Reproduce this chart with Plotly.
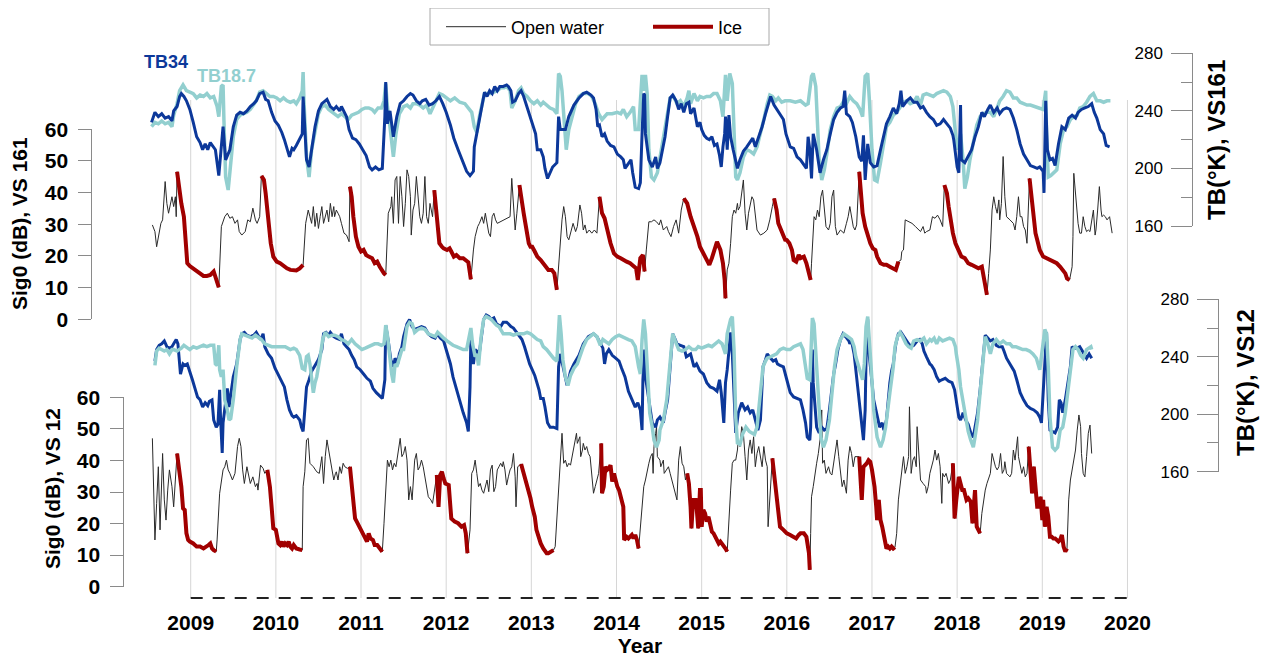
import plotly.graph_objects as go

W, H = 1270, 658
OFF = 8  # the page places the figure 8px in from the top-left corner
FONT = "Liberation Sans, Arial, sans-serif"
BLUE = "#0C389A"
TEAL = "#92CFCF"
RED = "#A10000"
BLACK = "#2a2a2a"
AXIS = "#8a8a8a"
GRID = "#d6d6d6"

years = list(range(2009, 2021))

# ---------------- VS 161 (top) ----------------
t_tb34_161 = [
 2008.54,2008.58,2008.62,2008.66,2008.70,2008.74,2008.78,2008.80,2008.84,2008.87,2008.89,2008.92,2008.95,2008.99,
 2009.03,2009.07,2009.11,2009.14,2009.17,2009.20,2009.23,2009.26,2009.29,2009.33,2009.38,2009.41,2009.46,2009.50,2009.54,2009.58,2009.62,2009.66,2009.70,2009.74,2009.77,2009.81,2009.85,2009.88,2009.91,2009.95,2009.99,
 2010.03,2010.07,2010.10,2010.13,2010.16,2010.19,2010.21,2010.24,2010.28,2010.31,2010.32,2010.34,2010.36,2010.39,2010.42,2010.46,2010.50,2010.54,2010.58,2010.60,2010.64,2010.68,2010.71,2010.75,2010.77,2010.80,2010.83,2010.86,2010.90,2010.94,2010.98,
 2011.02,2011.06,2011.10,2011.13,2011.17,2011.21,2011.25,2011.28,2011.29,2011.31,2011.34,2011.38,2011.42,2011.46,2011.50,2011.54,2011.58,2011.61,2011.65,2011.69,2011.72,2011.76,2011.80,2011.84,2011.88,2011.92,2011.96,
 2012.00,2012.05,2012.09,2012.14,2012.19,2012.24,2012.28,2012.32,2012.33,2012.36,2012.39,2012.42,2012.45,2012.48,2012.51,2012.54,2012.57,2012.60,2012.63,2012.67,2012.71,2012.73,2012.76,2012.78,2012.81,2012.85,2012.88,2012.91,2012.95,2012.99,
 2013.02,2013.05,2013.07,2013.11,2013.14,2013.16,2013.19,2013.22,2013.25,2013.30,2013.32,2013.34,2013.40,2013.44,2013.50,2013.56,2013.61,2013.65,2013.70,2013.73,2013.76,2013.78,2013.80,2013.83,2013.86,2013.89,2013.93,2013.97,
 2014.01,2014.05,2014.08,2014.10,2014.14,2014.17,2014.19,2014.22,2014.26,2014.28,2014.30,2014.32,2014.33,2014.34,2014.38,2014.42,2014.46,2014.48,2014.51,2014.55,2014.57,2014.60,2014.63,2014.66,2014.70,2014.73,2014.76,2014.79,2014.82,2014.85,2014.87,2014.91,2014.93,2014.95,2014.98,
 2015.00,2015.03,2015.06,2015.09,2015.12,2015.15,2015.18,2015.21,2015.23,2015.25,2015.27,2015.28,2015.30,2015.32,2015.34,2015.37,2015.40,2015.42,2015.45,2015.49,2015.53,2015.57,2015.60,2015.63,2015.67,2015.71,2015.75,2015.79,2015.81,2015.85,2015.88,2015.92,2015.96,2015.99,
 2016.04,2016.08,2016.12,2016.16,2016.20,2016.23,2016.25,2016.27,2016.29,2016.31,2016.35,2016.39,2016.43,2016.47,2016.51,2016.55,2016.59,2016.63,2016.66,2016.68,2016.70,2016.74,2016.77,2016.81,2016.85,2016.88,2016.90,2016.92,2016.95,2016.98,
 2017.02,2017.06,2017.10,2017.14,2017.17,2017.21,2017.25,2017.29,2017.32,2017.34,2017.36,2017.41,2017.45,2017.49,2017.53,2017.57,2017.60,2017.64,2017.68,2017.72,2017.76,2017.80,2017.84,2017.88,2017.92,2017.95,2017.96,
 2018.00,2018.02,2018.04,2018.05,2018.09,2018.13,2018.17,2018.21,2018.25,2018.29,2018.32,2018.36,2018.39,2018.43,2018.47,2018.50,2018.54,2018.58,2018.62,2018.66,2018.70,2018.74,2018.78,2018.82,2018.86,2018.90,2018.94,2018.97,
 2019.01,2019.02,2019.04,2019.06,2019.09,2019.12,2019.15,2019.19,2019.23,2019.27,2019.31,2019.35,2019.39,2019.42,2019.46,2019.50,2019.54,2019.58,2019.61,2019.64,2019.68,2019.72,2019.75,2019.79]
tb34_161 = [
 232,239,236,238,235,236,233,240,243,250,252,250,247,241,
 232,222,218,213,217,213,218,215,213,195,229,206,213,229,237,239,238,240,243,245,247,252,253,248,247,239,233,
 230,225,220,214,208,214,213,216,221,224,250,224,206,201,213,229,240,245,247,248,243,241,243,240,243,240,236,227,221,220,217,
 213,209,201,199,201,199,200,236,260,231,240,222,236,245,247,250,252,251,247,245,247,248,244,245,247,250,245,
 239,230,221,213,205,198,195,198,215,225,234,244,253,250,254,252,257,254,257,257,258,257,254,246,247,252,254,250,243,236,
 230,224,213,213,208,200,193,197,201,204,236,227,227,236,244,249,252,253,251,249,241,229,230,222,224,219,216,215,
 210,208,206,200,204,206,197,187,186,190,224,252,251,224,206,201,208,200,204,215,222,236,249,251,247,241,245,239,245,246,238,242,236,229,232,
 227,223,221,220,222,216,217,209,201,215,224,236,213,237,222,213,206,200,206,212,215,219,221,215,222,229,238,247,250,244,241,238,234,224,
 215,214,208,206,202,200,222,213,193,224,213,197,206,213,224,234,239,242,243,254,238,236,232,222,208,205,223,192,217,204,
 201,202,213,224,231,236,242,238,245,254,243,247,249,246,246,242,243,239,236,234,230,231,234,231,228,223,220,
 201,197,244,206,204,208,213,222,229,239,236,241,244,239,242,238,241,242,241,235,227,217,210,206,202,201,200,201,
 198,183,247,213,206,207,202,217,229,227,235,237,235,239,241,242,243,245,239,235,227,224,216,215]

t_tb18_161 = [
 2008.54,2008.58,2008.62,2008.66,2008.70,2008.74,2008.78,2008.80,2008.84,2008.87,2008.91,2008.95,2008.99,
 2009.03,2009.07,2009.11,2009.15,2009.19,2009.23,2009.27,2009.31,2009.33,2009.36,2009.38,2009.39,2009.41,2009.44,2009.46,2009.50,2009.54,2009.58,2009.62,2009.66,2009.70,2009.74,2009.77,2009.81,2009.85,2009.89,2009.93,2009.97,
 2010.01,2010.05,2010.09,2010.13,2010.17,2010.21,2010.24,2010.28,2010.31,2010.32,2010.33,2010.36,2010.39,2010.42,2010.46,2010.50,2010.54,2010.58,2010.62,2010.66,2010.69,2010.73,2010.77,2010.81,2010.85,2010.89,2010.93,2010.97,
 2011.01,2011.05,2011.09,2011.13,2011.16,2011.20,2011.24,2011.27,2011.29,2011.31,2011.34,2011.38,2011.41,2011.45,2011.50,2011.54,2011.58,2011.61,2011.65,2011.69,2011.73,2011.77,2011.81,2011.85,2011.89,2011.92,2011.96,
 2012.00,2012.05,2012.10,2012.16,2012.22,2012.26,2012.30,2012.33,2012.36,2012.39,2012.42,2012.45,2012.48,2012.52,2012.56,2012.60,2012.64,2012.68,2012.71,2012.75,2012.77,2012.81,2012.85,2012.88,2012.91,2012.95,2012.99,
 2013.03,2013.07,2013.11,2013.14,2013.18,2013.22,2013.26,2013.30,2013.32,2013.34,2013.36,2013.39,2013.41,2013.44,2013.48,2013.52,2013.56,2013.61,2013.67,2013.71,2013.75,2013.79,2013.83,2013.89,2013.95,
 2014.01,2014.05,2014.08,2014.12,2014.16,2014.20,2014.22,2014.26,2014.28,2014.30,2014.32,2014.34,2014.36,2014.38,2014.41,2014.44,2014.48,2014.51,2014.55,2014.59,2014.63,2014.67,2014.71,2014.75,2014.79,2014.83,2014.85,2014.87,2014.91,2014.95,2014.98,
 2015.02,2015.06,2015.10,2015.14,2015.18,2015.22,2015.25,2015.28,2015.30,2015.33,2015.36,2015.38,2015.40,2015.42,2015.45,2015.49,2015.53,2015.57,2015.61,2015.65,2015.69,2015.73,2015.77,2015.80,2015.83,2015.87,2015.90,2015.94,2015.98,
 2016.04,2016.10,2016.16,2016.22,2016.25,2016.29,2016.31,2016.34,2016.36,2016.38,2016.41,2016.44,2016.47,2016.51,2016.55,2016.59,2016.63,2016.67,2016.70,2016.74,2016.78,2016.82,2016.86,2016.89,2016.92,2016.95,2016.97,
 2017.00,2017.03,2017.06,2017.10,2017.14,2017.17,2017.21,2017.25,2017.29,2017.33,2017.37,2017.41,2017.45,2017.49,2017.53,2017.57,2017.60,2017.64,2017.68,2017.72,2017.76,2017.80,2017.84,2017.88,2017.92,2017.95,2017.98,
 2018.00,2018.04,2018.07,2018.09,2018.12,2018.15,2018.19,2018.23,2018.27,2018.31,2018.35,2018.39,2018.43,2018.47,2018.50,2018.54,2018.58,2018.62,2018.66,2018.70,2018.74,2018.78,2018.82,2018.86,2018.90,2018.96,
 2019.01,2019.04,2019.05,2019.07,2019.10,2019.13,2019.17,2019.21,2019.25,2019.29,2019.33,2019.37,2019.41,2019.44,2019.48,2019.52,2019.56,2019.60,2019.64,2019.68,2019.72,2019.76,2019.80]
tb18_161 = [
 229,232,231,233,231,232,229,237,245,254,258,254,253,
 252,249,251,250,252,249,250,243,236,257,258,234,194,185,199,222,234,237,238,239,241,244,247,253,254,252,250,250,
 249,247,249,247,246,247,245,249,254,267,247,208,194,213,227,238,243,244,241,239,238,236,238,236,234,237,238,239,
 241,242,242,241,239,242,242,247,259,243,229,208,224,238,243,244,242,245,245,244,242,244,238,243,247,252,251,
 249,247,249,246,245,242,239,229,225,236,245,252,252,252,253,254,256,256,257,254,242,247,254,256,252,250,247,
 245,247,244,246,244,242,241,238,266,264,254,227,213,227,236,245,250,252,252,250,245,238,234,238,238,
 239,238,241,236,239,243,227,227,243,265,254,265,252,213,194,192,197,208,220,234,249,250,245,247,243,249,254,245,252,247,250,
 249,250,250,252,252,247,236,265,247,266,259,224,194,192,197,208,213,212,210,215,224,234,245,251,250,247,249,246,247,
 247,246,247,244,245,264,266,257,224,206,192,199,210,227,236,242,243,247,245,250,247,245,241,236,264,266,247,
 213,192,191,204,217,229,232,237,239,243,246,247,245,246,250,244,251,252,251,250,252,253,254,253,250,243,228,
 213,224,206,186,194,206,217,230,236,238,239,239,236,242,247,250,254,253,249,249,246,245,244,244,243,242,
 241,254,224,194,195,197,199,217,227,229,234,236,237,242,243,246,250,252,247,247,246,247,247]

t_sig_161 = [
 2008.55,2008.58,2008.60,2008.62,2008.65,2008.67,2008.70,2008.72,2008.74,2008.76,2008.78,2008.80,2008.82,2008.83,2008.84,2008.87,2008.89,2008.92,2008.95,2008.96,2008.99,
 2009.03,2009.07,2009.11,2009.15,2009.19,2009.23,2009.27,2009.30,2009.33,2009.36,2009.40,2009.43,2009.46,2009.49,2009.52,2009.55,2009.57,2009.60,2009.64,2009.67,2009.70,2009.73,2009.76,2009.78,2009.81,2009.83,2009.86,2009.88,2009.91,2009.94,2009.97,
 2010.01,2010.05,2010.09,2010.13,2010.17,2010.21,2010.24,2010.28,2010.32,2010.35,2010.38,2010.40,2010.42,2010.44,2010.46,2010.48,2010.50,2010.52,2010.54,2010.56,2010.58,2010.60,2010.62,2010.64,2010.66,2010.68,2010.69,2010.71,2010.73,2010.75,2010.77,2010.80,2010.83,2010.86,2010.87,2010.89,2010.91,2010.94,2010.97,
 2011.00,2011.03,2011.06,2011.09,2011.13,2011.16,2011.19,2011.22,2011.24,2011.27,2011.29,2011.32,2011.35,2011.36,2011.38,2011.40,2011.42,2011.44,2011.46,2011.48,2011.50,2011.52,2011.54,2011.56,2011.58,2011.59,2011.61,2011.63,2011.65,2011.67,2011.69,2011.71,2011.73,2011.75,2011.77,2011.79,2011.81,2011.84,2011.86,2011.88,2011.90,2011.92,2011.95,2011.97,
 2012.01,2012.04,2012.06,2012.09,2012.12,2012.16,2012.20,2012.24,2012.26,2012.29,2012.32,2012.34,2012.37,2012.39,2012.42,2012.44,2012.46,2012.48,2012.50,2012.52,2012.54,2012.56,2012.58,2012.60,2012.64,2012.68,2012.71,2012.75,2012.77,2012.79,2012.81,2012.83,2012.86,2012.89,2012.91,2012.93,2012.95,2012.97,2012.99,
 2013.01,2013.04,2013.07,2013.11,2013.14,2013.18,2013.20,2013.24,2013.27,2013.30,2013.32,2013.34,2013.36,2013.38,2013.40,2013.42,2013.44,2013.47,2013.49,2013.52,2013.54,2013.57,2013.59,2013.61,2013.63,2013.65,2013.68,2013.71,2013.74,2013.77,2013.80,2013.83,2013.86,2013.89,2013.93,2013.97,
 2014.01,2014.05,2014.08,2014.12,2014.16,2014.20,2014.23,2014.25,2014.28,2014.31,2014.33,2014.35,2014.37,2014.38,2014.41,2014.44,2014.47,2014.50,2014.52,2014.55,2014.59,2014.61,2014.64,2014.67,2014.70,2014.73,2014.76,2014.79,2014.83,2014.87,2014.91,2014.95,2014.98,
 2015.02,2015.06,2015.09,2015.12,2015.16,2015.18,2015.22,2015.25,2015.27,2015.28,2015.30,2015.32,2015.34,2015.36,2015.38,2015.40,2015.42,2015.43,2015.45,2015.47,2015.49,2015.51,2015.53,2015.55,2015.57,2015.59,2015.61,2015.63,2015.65,2015.69,2015.73,2015.77,2015.80,2015.83,2015.85,2015.88,2015.90,2015.93,2015.96,2015.98,
 2016.00,2016.03,2016.06,2016.08,2016.11,2016.14,2016.16,2016.20,2016.23,2016.25,2016.28,2016.29,2016.31,2016.32,2016.34,2016.36,2016.38,2016.40,2016.42,2016.44,2016.46,2016.49,2016.51,2016.53,2016.55,2016.57,2016.59,2016.63,2016.67,2016.70,2016.72,2016.74,2016.76,2016.78,2016.80,2016.82,2016.85,2016.87,2016.89,2016.92,2016.95,2016.98,
 2017.01,2017.04,2017.06,2017.10,2017.14,2017.17,2017.21,2017.25,2017.28,2017.31,2017.34,2017.35,2017.37,2017.39,2017.43,2017.47,2017.51,2017.55,2017.57,2017.60,2017.62,2017.64,2017.68,2017.71,2017.74,2017.77,2017.80,2017.83,2017.85,2017.88,2017.90,2017.92,2017.95,2017.98,
 2018.02,2018.05,2018.09,2018.13,2018.17,2018.21,2018.25,2018.29,2018.32,2018.35,2018.37,2018.39,2018.41,2018.43,2018.45,2018.47,2018.49,2018.50,2018.52,2018.54,2018.56,2018.58,2018.62,2018.66,2018.68,2018.70,2018.72,2018.74,2018.76,2018.78,2018.80,2018.82,2018.85,2018.87,2018.89,2018.92,2018.94,2018.97,
 2019.01,2019.05,2019.09,2019.13,2019.17,2019.21,2019.24,2019.27,2019.29,2019.32,2019.35,2019.36,2019.37,2019.40,2019.42,2019.44,2019.46,2019.48,2019.50,2019.52,2019.54,2019.56,2019.58,2019.60,2019.62,2019.63,2019.65,2019.67,2019.69,2019.70,2019.72,2019.74,2019.76,2019.79,2019.82]
sig_161 = [
 29.8,27.7,22.9,26.1,30.3,31.4,43.5,36.6,33.5,36.1,38.7,35.6,38.7,32.4,46.6,39.8,36.6,32.4,19.8,17.7,16.8,
 16.1,15.1,14.5,13.7,13.7,14.0,15.1,12.6,10.1,29.3,32.4,33.5,31.9,32.4,30.3,31.4,27.7,26.6,27.7,31.4,30.8,35.1,31.4,30.3,32.4,45.3,44.0,39.8,32.4,24.0,19.8,
 18.2,17.7,16.8,16.1,15.6,15.6,15.4,16.1,17.2,30.3,34.5,32.4,30.3,35.6,29.3,33.5,28.7,32.4,35.6,30.3,32.4,34.5,30.8,36.6,32.4,35.6,32.4,34.5,33.5,32.4,30.3,27.2,26.6,24.5,41.9,38.7,32.4,26.1,22.9,
 21.4,21.9,20.3,19.8,19.3,17.7,18.2,16.6,15.6,14.5,14.0,33.5,35.6,38.7,30.3,44.0,45.1,30.3,45.1,38.7,29.3,36.6,47.2,45.1,38.7,26.6,34.5,36.6,45.1,39.8,32.4,30.3,33.5,45.1,32.4,30.3,36.6,32.4,40.8,35.6,30.3,24.0,22.9,22.4,
 21.9,22.4,21.4,19.8,20.3,19.3,19.3,18.2,18.0,12.6,21.9,26.1,29.3,30.3,32.4,30.3,33.5,30.3,27.2,26.1,32.4,33.5,31.4,30.3,30.8,31.4,31.9,32.4,44.5,35.6,28.2,33.5,42.4,35.6,33.5,30.3,27.2,24.0,22.9,
 22.9,21.4,19.8,18.7,17.7,16.6,15.6,15.6,14.5,9.3,17.7,26.1,31.4,35.6,32.4,26.1,25.1,28.2,30.3,27.7,29.3,36.1,33.5,28.2,29.8,27.2,28.2,27.2,28.2,27.2,38.7,33.5,31.9,28.2,24.0,20.8,
 19.8,19.3,18.7,18.2,17.7,16.8,16.1,12.4,19.3,20.3,15.1,21.9,28.2,30.8,30.8,31.4,30.8,29.8,31.4,28.2,29.3,27.7,26.1,29.3,31.4,27.2,34.5,38.2,36.6,32.4,29.3,26.1,22.9,
 20.8,18.7,17.2,19.3,22.4,24.5,21.9,17.7,12.4,6.6,15.6,17.7,24.0,32.4,34.5,33.5,36.6,34.5,35.6,39.8,44.0,33.5,28.2,33.5,36.6,38.7,37.7,32.4,28.2,26.6,27.2,28.2,31.4,35.6,38.2,34.5,30.3,28.2,26.1,25.1,
 25.0,24.0,21.9,18.7,18.2,20.3,19.3,19.8,17.7,15.6,12.4,17.7,30.3,32.4,31.4,34.5,32.4,38.7,40.8,34.5,29.3,28.2,30.3,38.7,40.8,29.3,26.6,28.2,27.2,30.3,32.4,35.6,32.4,29.3,28.2,29.8,46.6,40.8,33.5,29.3,26.1,24.0,
 22.4,21.9,19.8,17.7,17.2,17.2,16.6,16.1,15.6,18.2,18.7,21.4,21.9,31.4,30.8,30.3,29.3,28.2,27.7,29.3,27.2,27.7,28.2,32.4,31.9,32.9,31.4,29.3,42.4,39.8,35.6,31.4,27.2,24.0,
 21.9,19.8,19.3,17.7,17.2,16.6,16.1,16.6,12.4,7.7,14.5,21.9,34.5,38.7,35.6,33.5,37.7,31.4,36.6,51.4,38.7,32.4,31.4,30.3,28.2,32.4,38.7,32.4,32.4,29.3,28.2,24.0,44.5,39.8,33.5,27.2,25.1,21.9,
 19.8,19.3,18.7,18.2,17.7,16.6,15.6,14.5,12.9,12.4,16.6,26.1,46.1,36.6,30.3,27.2,27.2,32.4,29.3,27.7,28.2,27.7,31.4,34.5,26.6,28.2,34.5,41.9,34.5,32.4,32.9,32.4,31.4,32.4,27.2]

ice_periods_161 = [(2008.84, 2009.33), (2009.83, 2010.32), (2010.87, 2011.29), (2011.86, 2012.29),
                   (2012.86, 2013.30), (2013.80, 2014.33), (2014.79, 2015.28), (2015.85, 2016.28),
                   (2016.85, 2017.31), (2017.85, 2018.35), (2018.85, 2019.32)]

# ---------------- VS 12 (bottom) ----------------
t_tb34_12 = [
 2008.58,2008.60,2008.63,2008.66,2008.69,2008.72,2008.75,2008.78,2008.80,2008.83,2008.85,2008.87,2008.88,2008.91,2008.93,2008.96,2008.99,
 2009.02,2009.05,2009.08,2009.11,2009.14,2009.17,2009.20,2009.22,2009.25,2009.27,2009.30,2009.32,2009.34,2009.35,2009.37,2009.38,2009.40,2009.43,2009.45,2009.46,2009.48,2009.50,2009.54,2009.58,2009.60,2009.63,2009.66,2009.70,2009.74,2009.77,2009.80,2009.82,2009.85,2009.87,2009.91,2009.95,2009.99,
 2010.03,2010.07,2010.10,2010.13,2010.16,2010.19,2010.21,2010.24,2010.28,2010.30,2010.32,2010.34,2010.36,2010.39,2010.42,2010.46,2010.50,2010.54,2010.56,2010.59,2010.62,2010.64,2010.68,2010.71,2010.75,2010.77,2010.80,2010.83,2010.86,2010.89,2010.92,2010.95,2010.99,
 2011.03,2011.07,2011.11,2011.14,2011.18,2011.22,2011.25,2011.28,2011.29,2011.32,2011.35,2011.38,2011.40,2011.43,2011.45,2011.48,2011.50,2011.54,2011.57,2011.60,2011.63,2011.67,2011.71,2011.75,2011.79,2011.83,2011.87,2011.90,2011.93,2011.97,
 2012.01,2012.05,2012.08,2012.12,2012.16,2012.20,2012.24,2012.26,2012.28,2012.29,2012.31,2012.32,2012.34,2012.36,2012.38,2012.41,2012.44,2012.47,2012.50,2012.53,2012.56,2012.59,2012.62,2012.64,2012.67,2012.71,2012.73,2012.76,2012.79,2012.83,2012.86,2012.89,2012.92,2012.95,2012.98,
 2013.01,2013.04,2013.06,2013.09,2013.11,2013.14,2013.16,2013.19,2013.22,2013.26,2013.30,2013.32,2013.34,2013.37,2013.42,2013.46,2013.50,2013.56,2013.61,2013.67,2013.73,2013.77,2013.81,2013.84,2013.86,2013.88,2013.91,2013.95,2013.99,
 2014.03,2014.06,2014.10,2014.14,2014.18,2014.22,2014.25,2014.28,2014.30,2014.31,2014.33,2014.34,2014.38,2014.42,2014.46,2014.48,2014.51,2014.55,2014.57,2014.60,2014.63,2014.66,2014.69,2014.71,2014.75,2014.79,2014.82,2014.84,2014.87,2014.91,2014.94,2014.98,
 2015.02,2015.06,2015.10,2015.14,2015.18,2015.21,2015.23,2015.26,2015.28,2015.30,2015.32,2015.34,2015.36,2015.40,2015.43,2015.47,2015.51,2015.54,2015.57,2015.60,2015.63,2015.66,2015.69,2015.72,2015.75,2015.77,2015.81,2015.84,2015.87,2015.89,2015.92,2015.96,
 2016.00,2016.04,2016.08,2016.12,2016.16,2016.19,2016.22,2016.24,2016.27,2016.28,2016.30,2016.31,2016.35,2016.38,2016.41,2016.44,2016.47,2016.50,2016.53,2016.55,2016.57,2016.60,2016.63,2016.66,2016.69,2016.73,2016.74,2016.76,2016.79,2016.81,2016.84,2016.86,2016.88,2016.90,2016.92,2016.93,2016.95,2016.97,
 2017.02,2017.06,2017.09,2017.12,2017.14,2017.17,2017.19,2017.21,2017.23,2017.25,2017.28,2017.31,2017.34,2017.37,2017.40,2017.43,2017.46,2017.49,2017.53,2017.56,2017.59,2017.61,2017.64,2017.68,2017.70,2017.73,2017.76,2017.79,2017.82,2017.86,2017.90,2017.94,2017.97,2017.99,
 2018.02,2018.04,2018.07,2018.10,2018.13,2018.16,2018.19,2018.21,2018.24,2018.27,2018.30,2018.33,2018.36,2018.39,2018.42,2018.46,2018.49,2018.53,2018.55,2018.58,2018.62,2018.64,2018.67,2018.70,2018.74,2018.78,2018.82,2018.86,2018.90,2018.94,2018.97,2018.99,
 2019.01,2019.03,2019.05,2019.07,2019.09,2019.12,2019.15,2019.18,2019.20,2019.22,2019.24,2019.27,2019.30,2019.33,2019.35,2019.37,2019.41,2019.44,2019.46,2019.49,2019.52,2019.55,2019.58]
tb34_12 = [
 237,245,248,249,251,247,246,247,249,252,249,238,228,235,234,235,230,
 224,218,212,210,205,208,206,209,210,196,191,193,217,198,173,194,203,218,205,210,219,226,235,252,256,257,255,254,255,257,254,252,256,247,242,239,232,
 227,223,219,210,203,199,198,199,196,191,188,203,219,224,230,234,238,245,256,257,255,257,254,253,252,256,249,247,245,241,238,233,231,
 228,225,223,218,215,213,211,224,262,251,238,233,239,235,242,247,254,263,266,261,259,260,261,260,256,254,253,256,253,251,
 242,235,226,217,208,201,194,188,219,254,239,235,245,244,238,254,266,269,268,266,267,263,262,261,264,264,263,261,260,257,255,252,247,241,235,
 231,227,223,217,211,211,205,194,191,191,190,233,242,233,220,230,235,241,249,254,256,254,249,246,235,242,245,241,239,
 237,232,226,216,210,205,208,203,189,224,245,226,210,194,191,196,198,194,201,210,233,256,252,249,248,247,240,241,242,233,235,230,
 228,222,219,218,216,224,215,194,222,231,247,257,242,187,201,208,203,205,201,203,196,189,196,233,238,242,239,237,238,235,234,233,
 224,215,212,211,210,203,194,184,182,191,245,222,191,187,191,189,190,203,219,228,234,245,252,256,254,251,249,251,242,231,215,205,191,182,203,238,266,240,
 210,198,191,194,189,196,210,222,230,235,249,256,257,254,251,249,247,248,251,252,249,244,240,235,234,231,226,223,224,225,223,222,217,208,
 198,196,201,196,193,187,184,191,201,217,238,255,253,251,252,248,247,247,244,239,235,233,230,224,215,210,206,204,203,201,198,194,
 215,233,257,210,189,188,187,191,210,208,201,210,222,233,247,246,246,247,245,242,239,242,239]

t_tb18_12 = [
 2008.58,2008.60,2008.63,2008.66,2008.69,2008.72,2008.75,2008.78,2008.80,2008.84,2008.87,2008.89,2008.92,2008.95,2008.99,
 2009.03,2009.07,2009.11,2009.15,2009.19,2009.23,2009.27,2009.29,2009.31,2009.33,2009.34,2009.36,2009.38,2009.40,2009.43,2009.45,2009.47,2009.50,2009.54,2009.58,2009.60,2009.64,2009.68,2009.72,2009.76,2009.80,2009.83,2009.87,2009.91,2009.95,2009.99,
 2010.05,2010.11,2010.17,2010.21,2010.24,2010.28,2010.31,2010.34,2010.36,2010.38,2010.40,2010.42,2010.44,2010.46,2010.48,2010.52,2010.55,2010.58,2010.62,2010.66,2010.69,2010.73,2010.77,2010.81,2010.85,2010.89,2010.93,2010.97,
 2011.01,2011.05,2011.09,2011.13,2011.16,2011.20,2011.24,2011.27,2011.29,2011.31,2011.33,2011.36,2011.38,2011.40,2011.42,2011.45,2011.48,2011.50,2011.54,2011.57,2011.60,2011.63,2011.67,2011.71,2011.75,2011.79,2011.83,2011.87,2011.90,2011.93,2011.97,
 2012.01,2012.05,2012.08,2012.12,2012.16,2012.20,2012.24,2012.26,2012.29,2012.31,2012.34,2012.36,2012.38,2012.41,2012.44,2012.47,2012.50,2012.53,2012.56,2012.59,2012.62,2012.64,2012.67,2012.71,2012.75,2012.79,2012.83,2012.87,2012.91,2012.95,2012.99,
 2013.03,2013.07,2013.11,2013.14,2013.18,2013.22,2013.26,2013.30,2013.32,2013.33,2013.35,2013.37,2013.40,2013.43,2013.46,2013.50,2013.54,2013.58,2013.61,2013.65,2013.69,2013.73,2013.77,2013.81,2013.84,2013.87,2013.91,2013.95,2013.99,
 2014.03,2014.06,2014.10,2014.14,2014.18,2014.22,2014.26,2014.28,2014.30,2014.32,2014.34,2014.36,2014.39,2014.42,2014.44,2014.47,2014.50,2014.51,2014.55,2014.59,2014.63,2014.66,2014.69,2014.73,2014.77,2014.81,2014.85,2014.89,2014.93,2014.96,
 2015.00,2015.04,2015.08,2015.12,2015.16,2015.20,2015.24,2015.28,2015.30,2015.32,2015.34,2015.36,2015.38,2015.40,2015.42,2015.45,2015.48,2015.52,2015.56,2015.59,2015.62,2015.65,2015.69,2015.72,2015.75,2015.77,2015.81,2015.85,2015.88,2015.92,2015.96,
 2016.00,2016.04,2016.08,2016.12,2016.16,2016.19,2016.22,2016.24,2016.27,2016.28,2016.30,2016.32,2016.34,2016.37,2016.40,2016.43,2016.46,2016.50,2016.53,2016.56,2016.59,2016.63,2016.67,2016.70,2016.74,2016.76,2016.79,2016.81,2016.84,2016.87,2016.89,2016.91,2016.93,2016.95,2016.96,2016.99,
 2017.02,2017.06,2017.10,2017.13,2017.16,2017.18,2017.21,2017.25,2017.27,2017.30,2017.33,2017.36,2017.40,2017.43,2017.46,2017.49,2017.53,2017.57,2017.61,2017.64,2017.68,2017.70,2017.73,2017.76,2017.79,2017.83,2017.87,2017.91,2017.95,2017.98,2017.99,
 2018.02,2018.04,2018.07,2018.10,2018.13,2018.16,2018.19,2018.21,2018.24,2018.27,2018.30,2018.33,2018.36,2018.39,2018.42,2018.46,2018.50,2018.54,2018.58,2018.62,2018.65,2018.69,2018.73,2018.77,2018.81,2018.85,2018.89,2018.93,2018.97,2018.99,
 2019.01,2019.03,2019.05,2019.07,2019.09,2019.12,2019.15,2019.18,2019.21,2019.24,2019.27,2019.30,2019.33,2019.36,2019.39,2019.42,2019.45,2019.48,2019.52,2019.54,2019.57,2019.58]
tb18_12 = [
 234,244,246,245,244,245,242,245,245,244,245,246,248,247,245,
 247,246,247,248,247,248,248,235,234,248,231,226,231,210,203,196,197,210,233,252,256,255,254,253,255,253,252,249,248,247,247,
 247,247,245,246,245,241,232,231,240,241,235,224,215,222,226,240,252,257,254,255,255,254,252,251,249,252,249,247,
 245,246,247,248,249,249,248,249,262,255,242,228,222,235,233,240,245,245,261,264,263,257,259,260,259,256,255,254,257,255,253,
 251,249,248,247,246,245,245,252,260,249,240,242,234,254,266,268,267,266,264,262,261,259,256,256,256,255,256,256,256,257,256,
 254,252,251,247,245,242,239,237,254,269,256,238,226,220,227,232,235,242,247,252,254,256,254,248,252,251,249,252,254,
 255,254,253,252,251,247,233,228,252,266,256,233,201,191,182,177,182,189,196,210,233,256,251,245,244,245,247,245,245,247,
 246,247,248,247,249,251,249,242,256,261,266,268,245,198,180,179,186,191,188,187,186,191,215,233,237,239,240,241,242,245,246,
 245,245,247,248,249,245,233,225,224,238,267,263,245,210,184,177,182,196,215,233,245,252,256,255,253,252,247,240,234,226,224,235,261,268,261,233,
 203,184,177,182,191,203,215,233,247,254,257,254,249,247,246,251,252,251,253,249,252,251,253,249,253,251,252,253,252,247,242,
 231,219,208,196,188,182,177,184,196,215,238,254,249,242,249,252,249,251,249,249,247,247,246,245,245,244,242,239,231,240,
 252,259,256,233,198,177,175,177,189,191,201,217,233,245,247,245,241,239,245,246,247,245]

t_sig_12 = [
 2008.55,2008.58,2008.60,2008.62,2008.64,2008.66,2008.67,2008.69,2008.71,2008.73,2008.75,2008.78,2008.80,2008.82,2008.84,2008.87,2008.89,2008.91,2008.93,2008.95,2008.97,2008.99,
 2009.03,2009.07,2009.11,2009.15,2009.19,2009.21,2009.23,2009.25,2009.27,2009.30,2009.31,2009.34,2009.38,2009.40,2009.42,2009.44,2009.46,2009.49,2009.52,2009.55,2009.57,2009.59,2009.61,2009.63,2009.66,2009.68,2009.70,2009.73,2009.76,2009.78,2009.79,2009.82,2009.85,2009.87,2009.90,2009.93,2009.95,2009.97,
 2010.00,2010.03,2010.05,2010.07,2010.09,2010.11,2010.13,2010.15,2010.17,2010.19,2010.21,2010.24,2010.28,2010.31,2010.32,2010.34,2010.36,2010.38,2010.40,2010.44,2010.48,2010.51,2010.54,2010.56,2010.58,2010.60,2010.62,2010.64,2010.66,2010.68,2010.70,2010.71,2010.73,2010.75,2010.77,2010.79,2010.81,2010.84,2010.87,2010.89,2010.91,2010.93,2010.95,2010.97,2010.99,
 2011.02,2011.05,2011.07,2011.09,2011.11,2011.14,2011.16,2011.19,2011.22,2011.25,2011.27,2011.29,2011.31,2011.33,2011.35,2011.37,2011.39,2011.41,2011.44,2011.46,2011.48,2011.50,2011.52,2011.54,2011.56,2011.58,2011.60,2011.61,2011.63,2011.65,2011.67,2011.69,2011.71,2011.73,2011.75,2011.77,2011.79,2011.82,2011.84,2011.89,2011.91,2011.93,2011.95,2011.97,2011.99,
 2012.03,2012.06,2012.10,2012.14,2012.18,2012.21,2012.23,2012.25,2012.28,2012.29,2012.30,2012.32,2012.34,2012.36,2012.38,2012.40,2012.42,2012.44,2012.46,2012.48,2012.50,2012.52,2012.54,2012.56,2012.58,2012.60,2012.62,2012.64,2012.66,2012.67,2012.69,2012.71,2012.73,2012.75,2012.77,2012.79,2012.81,2012.82,2012.84,2012.88,2012.90,2012.93,2012.96,2012.99,
 2013.01,2013.04,2013.06,2013.09,2013.11,2013.14,2013.18,2013.20,2013.23,2013.26,2013.28,2013.30,2013.32,2013.34,2013.36,2013.38,2013.40,2013.42,2013.44,2013.46,2013.48,2013.52,2013.53,2013.54,2013.57,2013.58,2013.60,2013.61,2013.63,2013.65,2013.67,2013.69,2013.71,2013.73,2013.75,2013.77,2013.79,2013.82,2013.83,2013.85,2013.87,2013.89,2013.91,2013.93,2013.95,2013.97,2013.99,
 2014.01,2014.03,2014.05,2014.08,2014.09,2014.12,2014.14,2014.16,2014.18,2014.20,2014.22,2014.24,2014.26,2014.28,2014.30,2014.32,2014.34,2014.36,2014.38,2014.40,2014.42,2014.43,2014.44,2014.46,2014.47,2014.48,2014.51,2014.52,2014.55,2014.56,2014.59,2014.61,2014.63,2014.65,2014.67,2014.69,2014.71,2014.73,2014.75,2014.77,2014.79,2014.81,2014.83,2014.85,2014.87,2014.88,2014.90,2014.93,2014.94,2014.96,2014.98,2014.99,
 2015.00,2015.02,2015.04,2015.06,2015.08,2015.10,2015.12,2015.14,2015.16,2015.18,2015.20,2015.22,2015.24,2015.26,2015.28,2015.30,2015.32,2015.34,2015.36,2015.38,2015.40,2015.42,2015.43,2015.45,2015.47,2015.49,2015.51,2015.53,2015.55,2015.57,2015.59,2015.61,2015.63,2015.65,2015.67,2015.69,2015.71,2015.73,2015.75,2015.77,2015.78,2015.83,2015.85,2015.87,2015.88,2015.90,2015.92,2015.96,
 2016.00,2016.04,2016.08,2016.11,2016.14,2016.16,2016.20,2016.23,2016.26,2016.27,2016.28,2016.29,2016.31,2016.33,2016.35,2016.37,2016.39,2016.41,2016.42,2016.44,2016.46,2016.49,2016.51,2016.53,2016.55,2016.57,2016.59,2016.61,2016.63,2016.65,2016.67,2016.70,2016.72,2016.74,2016.76,2016.78,2016.80,2016.85,2016.87,2016.88,2016.90,2016.92,2016.94,2016.96,2016.98,
 2017.00,2017.03,2017.05,2017.06,2017.08,2017.10,2017.12,2017.14,2017.16,2017.17,2017.19,2017.21,2017.23,2017.25,2017.27,2017.29,2017.31,2017.33,2017.35,2017.37,2017.39,2017.41,2017.43,2017.44,2017.46,2017.48,2017.50,2017.52,2017.53,2017.55,2017.57,2017.60,2017.63,2017.64,2017.66,2017.68,2017.70,2017.72,2017.74,2017.76,2017.78,2017.80,2017.82,2017.83,2017.85,2017.87,2017.90,2017.92,2017.95,2017.97,2017.99,
 2018.02,2018.04,2018.06,2018.08,2018.11,2018.13,2018.16,2018.18,2018.20,2018.21,2018.23,2018.25,2018.27,2018.29,2018.31,2018.33,2018.35,2018.39,2018.41,2018.43,2018.45,2018.47,2018.49,2018.51,2018.53,2018.55,2018.56,2018.58,2018.60,2018.62,2018.64,2018.66,2018.68,2018.71,2018.72,2018.74,2018.76,2018.78,2018.80,2018.82,2018.84,2018.86,2018.88,2018.90,2018.92,2018.94,2018.96,2018.98,
 2019.00,2019.01,2019.03,2019.05,2019.07,2019.09,2019.11,2019.13,2019.15,2019.17,2019.19,2019.21,2019.23,2019.25,2019.27,2019.29,2019.31,2019.33,2019.35,2019.37,2019.39,2019.41,2019.43,2019.45,2019.46,2019.48,2019.50,2019.52,2019.54,2019.56,2019.58]
sig_12 = [
 47.0,14.8,26.4,38.0,18.0,33.8,42.2,27.5,21.1,30.6,37.0,31.7,25.3,33.8,42.2,35.9,31.7,24.8,24.3,16.9,14.8,14.3,
 13.7,12.7,12.7,12.1,12.7,13.2,13.7,12.1,11.6,11.1,14.8,29.6,37.0,38.0,40.1,37.0,35.9,33.8,35.9,44.4,47.0,44.4,37.0,32.7,38.0,34.8,32.7,34.8,31.7,32.7,30.6,38.5,37.5,35.9,37.0,31.7,25.3,18.5,
 18.0,13.7,13.2,14.3,12.7,13.7,13.2,14.3,12.7,12.1,13.2,12.1,11.8,11.6,31.7,36.4,46.5,47.0,39.1,38.0,36.4,35.9,41.2,32.7,41.2,46.5,43.3,40.1,37.0,33.8,35.9,36.4,33.8,38.0,35.9,39.1,38.0,37.5,38.0,32.7,27.5,21.6,20.6,19.5,18.0,
 16.9,15.3,14.3,16.9,15.3,14.8,13.2,13.2,12.1,11.1,20.1,29.6,40.1,38.0,40.1,37.0,39.1,38.0,43.3,47.0,41.2,42.2,44.4,40.1,27.5,31.7,27.5,31.7,40.1,42.2,37.0,38.0,40.1,38.0,34.8,31.7,28.5,27.5,26.4,35.4,25.3,35.4,36.4,34.3,32.7,
 32.2,21.6,20.6,20.1,19.0,19.5,16.9,10.6,18.0,27.5,35.9,37.0,40.1,35.9,31.7,32.7,30.6,29.6,31.7,33.8,30.1,37.0,38.5,30.1,31.7,37.0,38.0,39.1,38.0,39.6,37.0,32.2,34.8,37.0,38.0,42.2,34.8,25.3,38.0,38.9,37.0,33.8,31.7,28.0,
 25.3,22.2,18.0,15.3,13.7,12.1,10.6,10.6,11.1,11.6,12.7,22.2,30.6,38.0,48.6,39.1,40.1,38.0,39.1,38.5,41.2,46.5,48.6,45.4,47.5,41.2,43.3,45.4,43.3,44.4,42.2,41.2,33.8,29.6,31.7,33.8,35.9,45.4,29.6,31.7,38.0,37.0,37.5,38.5,33.3,35.9,33.3,
 31.7,30.6,28.5,25.3,14.8,15.8,15.3,16.1,16.4,15.3,16.4,14.8,12.1,18.0,25.3,31.7,33.8,37.0,39.1,41.2,42.2,35.9,44.4,48.6,50.7,41.2,40.1,38.0,40.1,35.9,37.0,38.0,35.9,33.8,31.7,29.6,27.5,40.1,44.4,39.1,38.0,33.8,35.9,32.7,25.3,18.5,27.5,27.5,25.3,18.5,30.6,30.6,
 19.0,24.3,23.2,20.6,22.2,19.5,17.4,16.9,15.8,14.8,13.7,14.3,13.7,12.7,12.1,11.1,23.2,30.6,39.1,40.1,40.1,43.3,46.5,44.4,50.7,48.6,41.2,33.8,43.3,46.5,42.2,47.5,38.0,42.2,44.4,41.2,38.0,44.4,40.1,38.0,19.0,40.7,35.9,31.7,27.5,23.2,19.0,18.0,
 16.9,16.4,15.8,15.3,16.4,16.9,16.9,15.8,10.6,5.3,16.9,28.5,31.7,35.9,39.1,42.2,46.5,56.0,39.1,40.1,35.9,38.0,35.9,35.4,39.1,42.2,46.5,41.2,35.9,31.7,33.8,29.6,40.1,44.4,42.2,38.0,41.2,41.2,31.7,27.5,38.0,38.5,39.1,40.1,39.6,
 37.0,31.7,25.3,21.1,27.5,21.1,19.0,15.8,12.7,12.1,12.7,12.1,12.7,12.1,12.5,16.9,27.5,32.7,38.0,41.2,35.9,38.0,41.2,57.0,35.9,40.1,41.2,38.0,50.7,41.2,33.8,32.7,31.7,29.6,31.7,35.9,38.0,40.1,43.3,40.1,42.2,38.0,26.4,35.9,34.8,35.9,32.7,33.8,39.1,21.6,27.5,
 34.8,32.7,30.6,30.6,27.5,28.0,26.9,20.1,27.5,30.6,19.0,18.0,16.9,23.2,27.5,30.6,32.7,35.9,42.2,40.1,38.0,37.0,38.0,42.2,35.9,37.0,39.6,35.9,35.4,34.8,35.9,43.3,40.1,47.5,41.2,38.0,35.9,38.0,34.8,35.9,44.4,37.0,29.6,38.0,31.7,25.3,25.3,28.5,
 21.1,27.5,19.0,25.3,22.2,15.8,15.8,15.3,15.3,14.8,14.3,14.8,16.4,12.7,11.1,12.1,27.5,33.8,37.0,39.1,43.3,49.6,54.4,50.7,42.2,35.9,34.8,41.2,48.6,51.2,42.2]

ice_periods_12 = [(2008.84, 2009.30), (2009.90, 2010.31), (2010.87, 2011.25), (2011.89, 2012.25),
                  (2012.88, 2013.26), (2013.82, 2014.26), (2014.83, 2015.30), (2015.83, 2016.27),
                  (2016.85, 2017.27), (2017.95, 2018.27), (2018.84, 2019.29)]


def ice_only(t, v, periods):
    return [vi if any(a - 1e-6 <= ti <= b + 1e-6 for a, b in periods) else None
            for ti, vi in zip(t, v)]


def fx(p):
    return (p - OFF) / W


def fy(p):
    return 1 - (p - OFF) / H


fig = go.Figure()

# top panel (VS 161)
fig.add_trace(go.Scatter(x=t_sig_161, y=sig_161, mode="lines", name="Open water", legend="legend",
                         line=dict(color=BLACK, width=1), xaxis="x", yaxis="y"))
fig.add_trace(go.Scatter(x=t_sig_161, y=ice_only(t_sig_161, sig_161, ice_periods_161), mode="lines",
                         name="Ice", legend="legend2", connectgaps=False,
                         line=dict(color=RED, width=4), xaxis="x", yaxis="y"))
fig.add_trace(go.Scatter(x=t_tb18_161, y=tb18_161, mode="lines", name="TB18.7", showlegend=False,
                         line=dict(color=TEAL, width=3.5), xaxis="x", yaxis="y2"))
fig.add_trace(go.Scatter(x=t_tb34_161, y=tb34_161, mode="lines", name="TB34", showlegend=False,
                         line=dict(color=BLUE, width=3), xaxis="x", yaxis="y2"))

# bottom panel (VS 12)
fig.add_trace(go.Scatter(x=t_sig_12, y=sig_12, mode="lines", name="Open water",
                         showlegend=False, line=dict(color=BLACK, width=1), xaxis="x", yaxis="y3"))
fig.add_trace(go.Scatter(x=t_sig_12, y=ice_only(t_sig_12, sig_12, ice_periods_12), mode="lines",
                         name="Ice", showlegend=False, connectgaps=False,
                         line=dict(color=RED, width=4), xaxis="x", yaxis="y3"))
fig.add_trace(go.Scatter(x=t_tb34_12, y=tb34_12, mode="lines", name="TB34", showlegend=False,
                         line=dict(color=BLUE, width=3), xaxis="x", yaxis="y4"))
fig.add_trace(go.Scatter(x=t_tb18_12, y=tb18_12, mode="lines", name="TB18.7", showlegend=False,
                         line=dict(color=TEAL, width=3.5), xaxis="x", yaxis="y4"))

sig_axis = dict(range=[0, 60], tickvals=[0, 10, 20, 30, 40, 50, 60], anchor="free", side="left",
                showline=True, linecolor=AXIS, linewidth=1, ticks="outside", ticklen=13,
                tickcolor=AXIS, tickfont=dict(size=21, weight="bold", color="black"),
                ticklabelstandoff=6, showgrid=False, zeroline=False, automargin=False)
tb_axis = dict(range=[160, 280], tickvals=[160, 200, 240, 280], anchor="free", side="left",
               showline=True, linecolor=AXIS, linewidth=1, ticks="outside", ticklen=21,
               tickcolor=AXIS, tickfont=dict(size=17, color="black"), ticklabelstandoff=5,
               minor=dict(tickvals=[180, 220, 260], ticks="outside", ticklen=11, tickcolor=AXIS),
               showgrid=False, zeroline=False, automargin=False)

x0_px, x1_px = 140, 1140
px_per_year = 85.16
legend_common = dict(orientation="h", yanchor="middle", xanchor="left", y=fy(27),
                     borderwidth=0, bgcolor="rgba(0,0,0,0)", font=dict(size=18, color="black"),
                     itemwidth=60)
fig.update_layout(
    template="none",
    width=W, height=H, autosize=False,
    margin=dict(l=0, r=0, t=0, b=0, pad=0),
    plot_bgcolor="rgba(0,0,0,0)", paper_bgcolor="white",
    font=dict(family=FONT, color="black"),
    xaxis=dict(domain=[fx(x0_px), fx(x1_px)],
               range=[2009 - (190.7 - x0_px) / px_per_year, 2009 + (x1_px - 190.7) / px_per_year],
               anchor="free", position=fy(598), tickvals=years, ticktext=[str(y) for y in years],
               tickfont=dict(size=21, weight="bold", color="black"), ticks="", showline=False,
               showgrid=False, zeroline=False, ticklabelstandoff=10, automargin=False,
               title=dict(text="Year", font=dict(size=21, weight="bold", color="black"), standoff=1)),
    yaxis=dict(domain=[fy(319.3), fy(129.3)], position=fx(91.3), **sig_axis),
    yaxis2=dict(domain=[fy(226), fy(53.3)], position=fx(1192.3), **tb_axis),
    yaxis3=dict(domain=[fy(586.7), fy(397.3)], position=fx(123.3), **sig_axis),
    yaxis4=dict(domain=[fy(471.7), fy(299.3)], position=fx(1218.3), **tb_axis),
    legend=dict(x=fx(441), **legend_common),
    legend2=dict(x=fx(648), **legend_common),
    showlegend=True,
)

shapes = []
for yr in years:
    shapes.append(dict(type="line", xref="x", yref="paper", x0=yr, x1=yr, y0=fy(598), y1=fy(100),
                       line=dict(color=GRID, width=1), layer="below"))
shapes.append(dict(type="line", xref="x", yref="paper", x0=years[0], x1=years[-1], y0=fy(598), y1=fy(598),
                   line=dict(color="#222222", width=2, dash="12px,10px"), layer="above"))
# legend frame
shapes.append(dict(type="rect", xref="paper", yref="paper", x0=fx(430), x1=fx(769), y0=fy(45), y1=fy(8),
                   line=dict(color="#a8a8a8", width=1), fillcolor="rgba(0,0,0,0)", layer="below"))
fig.update_layout(shapes=shapes)

ann = [
    dict(text="TB34", x=fx(166), y=fy(62), font=dict(size=18, weight="bold", color=BLUE)),
    dict(text="TB18.7", x=fx(226), y=fy(76), font=dict(size=18, weight="bold", color=TEAL)),
    dict(text="Sig0 (dB), VS 161", x=fx(20), y=fy(224), textangle=-90, font=dict(size=21, weight="bold")),
    dict(text="Sig0 (dB), VS 12", x=fx(52), y=fy(489), textangle=-90, font=dict(size=21, weight="bold")),
    dict(text="TB(°K), VS161", x=fx(1217), y=fy(140), textangle=-90, font=dict(size=24, weight="bold")),
    dict(text="TB(°K), VS12", x=fx(1245), y=fy(383), textangle=-90, font=dict(size=24, weight="bold")),
]
for a in ann:
    a.update(xref="paper", yref="paper", showarrow=False, xanchor="center", yanchor="middle")
fig.update_layout(annotations=ann)

fig.write_html("out.html")
